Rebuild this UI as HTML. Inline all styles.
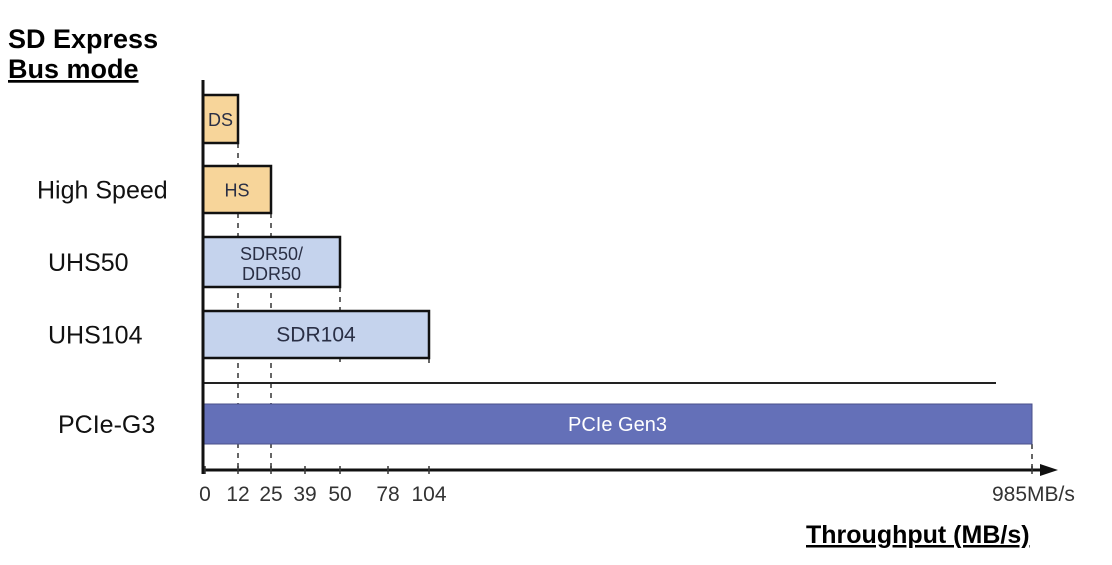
<!DOCTYPE html>
<html><head><meta charset="utf-8"><style>
body{margin:0;background:#fff;width:1112px;height:565px;overflow:hidden}
svg{display:block;font-family:"Liberation Sans",Arial,sans-serif}
</style></head><body>
<svg width="1112" height="565">
<text x="8" y="48" font-size="27" font-weight="bold">SD Express</text>
<text x="8" y="78" font-size="27" font-weight="bold" text-decoration="underline">Bus mode</text>
<text x="806" y="543" font-size="25" font-weight="bold" text-decoration="underline">Throughput (MB/s)</text>
<g id="chart"></g>
</svg>
<script>
const categories=["","High Speed","UHS50","UHS104","PCIe-G3"];
const barLabels=["DS","HS","SDR50/|DDR50","SDR104","PCIe Gen3"];
const values=[12,25,50,104,985];
const tickValues=[0,12,25,39,50,78,104,985];
const tickLabels=["0","12","25","39","50","78","104","985MB/s"];
// piecewise axis scale (non-linear axis in original)
const scaleDomain=[0,12,25,39,50,78,104,985];
const scaleRange=[205,238,271,305,340,388,429,1032];
function xs(v){for(let i=1;i<scaleDomain.length;i++){if(v<=scaleDomain[i]||i===scaleDomain.length-1){const d0=scaleDomain[i-1],d1=scaleDomain[i];return scaleRange[i-1]+(v-d0)/(d1-d0)*(scaleRange[i]-scaleRange[i-1]);}}}
const NS="http://www.w3.org/2000/svg",g=document.getElementById("chart");
function mk(t,a){const e=document.createElementNS(NS,t);for(const k in a)e.setAttribute(k,a[k]);g.appendChild(e);return e;}
const rows=[{y:95,h:48},{y:166,h:47},{y:237,h:50},{y:311,h:47},{y:404,h:40}];
const fills=["#f7d59a","#f7d59a","#c5d3ed","#c5d3ed","#6470b8"];
const axisY=470,x0=203;
// dashed guides
values.forEach((v,i)=>{const x=xs(v);const y1=rows[i].y+rows[i].h;const y2=(i===2||i===3)?365:axisY;
const l=mk("line",{x1:x,x2:x,y1:y1,y2:y2,stroke:"#333","stroke-width":1.5,"stroke-dasharray":"5,5"});

});
[0,1].forEach(j=>{const x=xs(values[j]);[2,3,4].forEach(i=>{if(i>j){}});});
// extra guides through lower rows for 12 and 25 drawn above full height already
values.forEach((v,i)=>{const r=rows[i];const x=xs(v);
const b=mk("rect",{x:x0,y:r.y,width:x-x0,height:r.h,fill:fills[i],stroke:i===4?"#4a4f8a":"#111","stroke-width":i===4?1:2.5});


const parts=barLabels[i].split('|');const cx=(x0+x)/2;
parts.forEach((p,k)=>{const t=mk("text",{x:cx,y:r.y+r.h/2+7+(parts.length>1?(k===0?-9:11):0),"text-anchor":"middle","font-size":parts.length>1?18:(i===4?20:(i<2?18:21)),fill:i===4?"#fff":"#2a2f45"});
t.textContent=p.replace("/","/");

});
const c=mk("text",{x:i===4?58:(i===1?37:48),y:r.y+r.h/2+9,"font-size":25,fill:"#111"});
c.textContent=categories[i];

});
// separator line
const sep=mk("line",{x1:x0,x2:996,y1:383,y2:383,stroke:"#222","stroke-width":2});


// axes
const ya=mk("line",{x1:x0,x2:x0,y1:80,y2:474,stroke:"#111","stroke-width":3});


const xa=mk("line",{x1:x0,x2:1045,y1:axisY,y2:axisY,stroke:"#111","stroke-width":3});


const ar=mk("polygon",{points:`1058,${axisY} 1040,${axisY-6} 1040,${axisY+6}`,fill:"#111"});


tickValues.forEach((v,i)=>{const x=xs(v);
const tk=mk("line",{x1:x,x2:x,y1:axisY-4,y2:axisY+4,stroke:"#333","stroke-width":1.5});


const last=i===tickValues.length-1;
const t=mk("text",{x:last?x-40:x,y:501,"text-anchor":last?"start":"middle","font-size":21,fill:"#333"});
t.textContent=tickLabels[i];

});
</script>
</body></html>
